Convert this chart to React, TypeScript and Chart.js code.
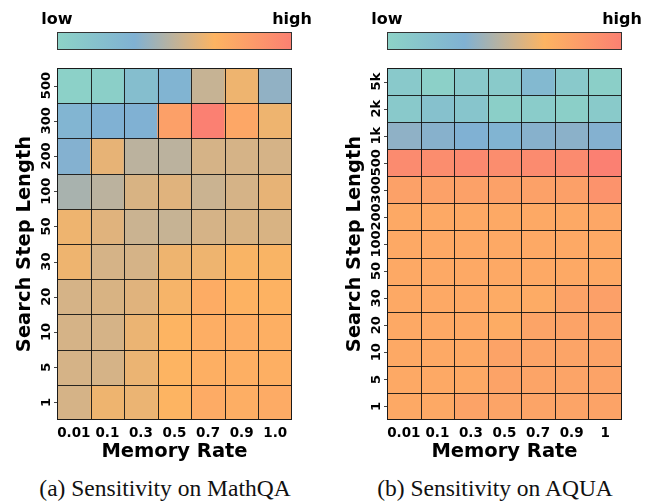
import React, { useEffect, useRef } from "react";
import { Chart, registerables } from "chart.js";

Chart.register(...registerables);

// ---------- data ----------
const mathqaRates = ["0.01", "0.1", "0.3", "0.5", "0.7", "0.9", "1.0"];
const aquaRates = ["0.01", "0.1", "0.3", "0.5", "0.7", "0.9", "1"];

// step lengths listed from top row to bottom row
const mathqaSteps = ["500", "300", "200", "100", "50", "30", "20", "10", "5", "1"];
const aquaSteps = ["5k", "2k", "1k", "500", "300", "200", "100", "50", "30", "20", "10", "5", "1"];

// normalised sensitivity (0 = low, 1 = high), rows top to bottom
const mathqaValues = [
  [0.02, 0.04, 0.2, 0.3, 0.52, 0.63, 0.375],
  [0.29, 0.33, 0.33, 0.8, 1.0, 0.75, 0.63],
  [0.34, 0.61, 0.49, 0.49, 0.56, 0.56, 0.56],
  [0.44, 0.49, 0.57, 0.59, 0.53, 0.56, 0.61],
  [0.63, 0.59, 0.53, 0.52, 0.56, 0.57, 0.57],
  [0.63, 0.56, 0.56, 0.63, 0.63, 0.66, 0.66],
  [0.56, 0.57, 0.59, 0.65, 0.72, 0.68, 0.68],
  [0.56, 0.56, 0.62, 0.67, 0.71, 0.71, 0.7],
  [0.56, 0.56, 0.62, 0.67, 0.7, 0.7, 0.7],
  [0.56, 0.63, 0.62, 0.67, 0.73, 0.71, 0.73],
];

const aquaValues = [
  [0.1, 0.03, 0.1, 0.09, 0.25, 0.1, 0.04],
  [0.1, 0.17, 0.14, 0.04, 0.07, 0.04, 0.09],
  [0.37, 0.35, 0.33, 0.3, 0.35, 0.36, 0.34],
  [0.93, 0.92, 0.94, 0.92, 0.93, 0.93, 1.0],
  [0.79, 0.79, 0.79, 0.79, 0.79, 0.8, 0.88],
  [0.74, 0.74, 0.74, 0.74, 0.74, 0.74, 0.75],
  [0.74, 0.74, 0.74, 0.74, 0.74, 0.74, 0.74],
  [0.74, 0.74, 0.74, 0.74, 0.74, 0.74, 0.74],
  [0.74, 0.74, 0.74, 0.73, 0.73, 0.78, 0.8],
  [0.74, 0.74, 0.74, 0.72, 0.77, 0.78, 0.78],
  [0.74, 0.74, 0.74, 0.78, 0.77, 0.77, 0.78],
  [0.74, 0.74, 0.74, 0.78, 0.77, 0.77, 0.78],
  [0.74, 0.74, 0.78, 0.77, 0.77, 0.77, 0.78],
];

// ---------- colour map ----------
const cmapStops: [number, [number, number, number]][] = [
  [0, [141, 211, 199]],
  [0.33, [128, 177, 211]],
  [0.67, [253, 180, 98]],
  [1, [251, 128, 114]],
];

function cmap(v: number): string {
  const t = Math.max(0, Math.min(1, v));
  for (let i = 0; i < cmapStops.length - 1; i++) {
    const [a, ca] = cmapStops[i];
    const [b, cb] = cmapStops[i + 1];
    if (t <= b) {
      const f = (t - a) / (b - a);
      const c = ca.map((x, k) => Math.round(x + (cb[k] - x) * f));
      return `rgb(${c[0]},${c[1]},${c[2]})`;
    }
  }
  const c = cmapStops[cmapStops.length - 1][1];
  return `rgb(${c[0]},${c[1]},${c[2]})`;
}

const SANS = "'DejaVu Sans', sans-serif";
const GRID = "rgba(20,20,20,0.9)";

const decorPlugin = {
  id: "heatDecor",
  afterDatasetsDraw(chart: any) {
    const { ctx, chartArea, scales } = chart;
    const steps: string[] = chart.options.plugins.heatDecor.steps;
    const n = steps.length;
    const { left, right, top, bottom } = chartArea;
    const xs = scales.x;
    const ys = scales.y;
    const cols = xs.ticks.length;
    ctx.save();
    ctx.strokeStyle = GRID;
    ctx.lineWidth = 1;
    ctx.beginPath();
    // inner vertical lines
    const colW = (right - left) / cols;
    for (let c = 1; c < cols; c++) {
      const x = Math.round(left + c * colW) + 0.5;
      ctx.moveTo(x, top);
      ctx.lineTo(x, bottom);
    }
    for (let r = 1; r < n; r++) {
      const y = Math.round(ys.getPixelForValue(r)) + 0.5;
      ctx.moveTo(left, y);
      ctx.lineTo(right, y);
    }
    ctx.stroke();
    ctx.strokeStyle = "#1a1a1a";
    ctx.strokeRect(Math.round(left) + 0.5, Math.round(top) + 0.5, Math.round(right - left) - 1, Math.round(bottom - top) - 1);
    ctx.restore();
  },
  afterDraw(chart: any) {
    const { ctx, chartArea, scales } = chart;
    const steps: string[] = chart.options.plugins.heatDecor.steps;
    const n = steps.length;
    const { left, right } = chartArea;
    // colour bar
    const top = 32, bottom = 50;
    const g = ctx.createLinearGradient(left, 0, right, 0);
    cmapStops.forEach(([p]) => g.addColorStop(p, cmap(p)));
    ctx.save();
    ctx.fillStyle = g;
    ctx.fillRect(left, top, right - left, bottom - top);
    ctx.strokeStyle = "#333";
    ctx.lineWidth = 1;
    ctx.strokeRect(Math.round(left) + 0.5, top + 0.5, Math.round(right - left) - 1, bottom - top - 1);
    ctx.fillStyle = "#000";
    ctx.font = `bold 16px ${SANS}`;
    ctx.textAlign = "center";
    ctx.textBaseline = "alphabetic";
    ctx.fillText("low", left, 24);
    ctx.fillText("high", right, 24);
    // y tick labels (rotated) and tick marks
    ctx.font = `bold 13px ${SANS}`;
    ctx.textBaseline = "middle";
    const ys = scales.y;
    steps.forEach((lab, r) => {
      const y = ys.getPixelForValue(n - r - 0.5);
      ctx.save();
      ctx.translate(left - 10, y);
      ctx.rotate(-Math.PI / 2);
      ctx.fillText(lab, 0, 0);
      ctx.restore();
      ctx.beginPath();
      ctx.moveTo(left - 3, Math.round(y) + 0.5);
      ctx.lineTo(left, Math.round(y) + 0.5);
      ctx.strokeStyle = "#444";
      ctx.stroke();
    });
    ctx.restore();
  },
};

function makeConfig(rates: string[], steps: string[], values: number[][]): any {
  const n = steps.length;
  const datasets = steps.map((lab, r) => {
    const row = n - 1 - r;
    return {
      label: lab,
      data: values[r].map(() => [row, row + 1]),
      backgroundColor: values[r].map((v) => cmap(v)),
      borderWidth: 0,
      borderSkipped: false,
      grouped: false,
      categoryPercentage: 1,
      barPercentage: 1,
      inflateAmount: 0.5,
    };
  });
  return {
    type: "bar",
    data: { labels: rates, datasets },
    plugins: [decorPlugin],
    options: {
      animation: false,
      responsive: false,
      maintainAspectRatio: false,
      layout: { padding: { top: 68, right: 36, left: 0, bottom: 0 } },
      plugins: {
        legend: { display: false },
        tooltip: { enabled: false },
        heatDecor: { steps },
      },
      scales: {
        x: {
          type: "category",
          offset: true,
          grid: { display: false, drawTicks: false },
          border: { display: false },
          ticks: {
            font: { family: SANS, weight: "bold", size: 13.5 },
            color: "#000",
            padding: 5,
            maxRotation: 0,
            minRotation: 0,
            autoSkip: false,
          },
          title: {
            display: true,
            text: "Memory Rate",
            color: "#000",
            font: { family: SANS, weight: "bold", size: 19.5, lineHeight: 1.2 },
            padding: { top: 0, bottom: 6 },
          },
          afterFit: (s: any) => {
            s.height = 50;
          },
        },
        y: {
          type: "linear",
          min: 0,
          max: n,
          grid: { display: false, drawTicks: false },
          border: { display: false },
          ticks: { display: false },
          title: {
            display: true,
            text: "Search Step Length",
            color: "#000",
            font: { family: SANS, weight: "bold", size: 19.5, lineHeight: 1.2 },
            padding: { top: 13, bottom: 0 },
          },
          afterFit: (s: any) => {
            s.width = 57;
          },
        },
      },
    },
  };
}

function Heatmap(props: { rates: string[]; steps: string[]; values: number[][]; left: number }) {
  const ref = useRef<HTMLCanvasElement | null>(null);
  useEffect(() => {
    if (!ref.current) return;
    const chart = new Chart(ref.current, makeConfig(props.rates, props.steps, props.values));
    return () => chart.destroy();
  }, []);
  return (
    <canvas
      ref={ref}
      width={328}
      height={470}
      style={{ position: "absolute", left: props.left, top: 0, width: 328, height: 470 }}
    />
  );
}

const captionStyle: React.CSSProperties = {
  position: "absolute",
  top: 477,
  width: 330,
  textAlign: "center",
  fontFamily: "'Liberation Serif', 'Times New Roman', serif",
  fontSize: 23.5,
  lineHeight: 1,
  color: "#111",
  whiteSpace: "nowrap",
};

export default function App() {
  return (
    <div
      style={{
        position: "fixed",
        left: 0,
        top: 0,
        width: 655,
        height: 503,
        background: "#fff",
        overflow: "hidden",
      }}
    >
      <Heatmap rates={mathqaRates} steps={mathqaSteps} values={mathqaValues} left={0} />
      <Heatmap rates={aquaRates} steps={aquaSteps} values={aquaValues} left={330} />
      <div style={{ ...captionStyle, left: 0 }}>(a) Sensitivity on MathQA</div>
      <div style={{ ...captionStyle, left: 330 }}>(b) Sensitivity on AQUA</div>
    </div>
  );
}
